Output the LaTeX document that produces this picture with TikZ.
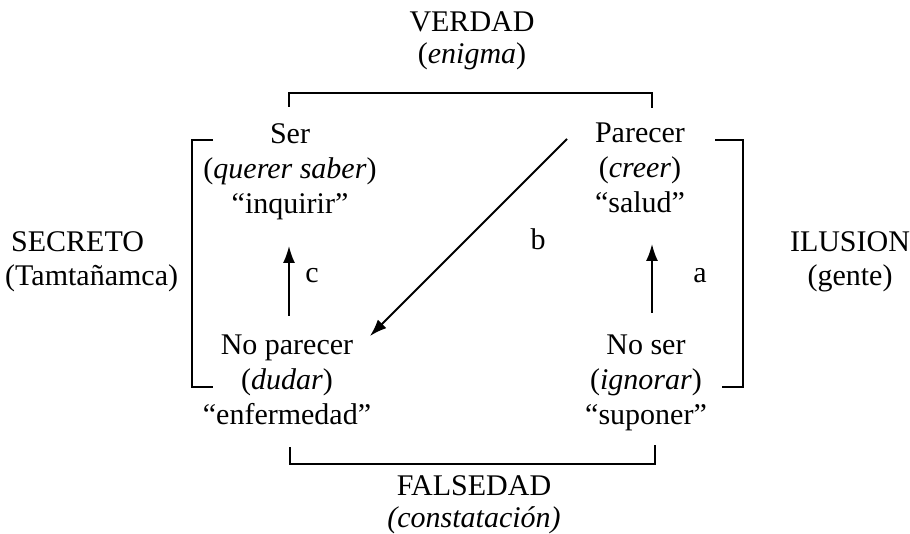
\documentclass[tikz,border=0pt]{standalone}
\usepackage{fontspec}
\setmainfont{Liberation Serif}
\usetikzlibrary{arrows.meta}
\tikzset{
  lbl/.style={inner sep=0pt, font=\fontsize{30}{35}\selectfont},
  corner/.style={lbl, align=center, anchor=north},
  outer/.style={lbl, anchor=base},
  brk/.style={line width=1.8pt},
  arr/.style={line width=1.8pt, -{Latex[length=17pt,width=12pt]}},
}
\begin{document}
\begin{tikzpicture}[x=1pt,y=-1pt]
\useasboundingbox (0,0) rectangle (910,534);
% outer labels
\node[outer] (verdad) at (472,32) {VERDAD};
\node[outer] (enigma) at (472,64) {(\textit{enigma})};
\node[outer] (falsedad) at (474,495) {FALSEDAD};
\node[outer] (constat) at (474,527) {\textit{(constatación)}};
\node[outer, anchor=base west] (secreto) at (11,252) {SECRETO};
\node[outer, anchor=base west] (tamta) at (5,286) {(Tamtañamca)};
\node[outer] (ilusion) at (850,252) {ILUSION};
\node[outer] (gente) at (850,286) {(gente)};
% corners
\node[corner] (ser) at (290,123) {Ser\\(\textit{querer saber})\\“inquirir”};
\node[corner] (parecer) at (640,123) {Parecer\\(\textit{creer})\\“salud”};
\node[corner] (noparecer) at (287,335) {No parecer\\(\textit{dudar})\\“enfermedad”};
\node[corner] (noser) at (646,335) {No ser\\(\textit{ignorar})\\“suponer”};
% arrow labels
\node[outer] (la) at (700,283) {a};
\node[outer] (lb) at (538,250) {b};
\node[outer] (lc) at (312,283) {c};
% arrow end points
\coordinate (cfrom) at (289,316);
\coordinate (cto) at (289,246);
\coordinate (afrom) at (652,313);
\coordinate (ato) at (652,244);
\coordinate (bfrom) at (567,139);
\coordinate (bto) at (370,336);
\draw[arr] (cfrom) -- (cto);
\draw[arr] (afrom) -- (ato);
\draw[arr] (bfrom) -- (bto);
% brackets
\draw[brk] (289,107) -- (289,93) -- (652,93) -- (652,108);
\draw[brk] (290,447) -- (290,464) -- (655,464) -- (655,445);
\draw[brk] (213,140) -- (192,140) -- (192,387) -- (213,387);
\draw[brk] (715,140) -- (743,140) -- (743,387) -- (722,387);
\end{tikzpicture}
\end{document}
